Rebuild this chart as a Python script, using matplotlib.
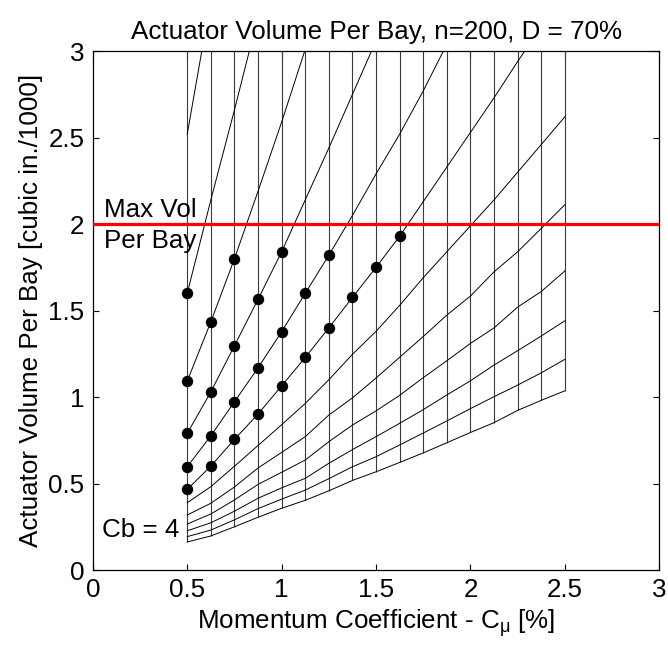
#!/usr/bin/env python3
"""
Carpet plot of actuator volume per bay vs momentum coefficient.

Each slanted line is one blowing coefficient (Cb = 4 at the bottom),
each vertical line one Cmu station. Dots mark the design points that
stay under the max volume per bay.
"""

import matplotlib
matplotlib.use('Agg')
import matplotlib.pyplot as plt
import numpy as np

nan = np.nan

# ---------------------------------------------------------------------------
# Data
# ---------------------------------------------------------------------------

cmu = [0.5, 0.625, 0.75, 0.875, 1.0, 1.125, 1.25, 1.375, 1.5,
       1.625, 1.75, 1.875, 2.0, 2.125, 2.25, 2.375, 2.5]

# volume per bay [cubic in./1000], one list per Cb line, lowest first
curve_01 = [0.162, 0.197, 0.250, 0.305, 0.357, 0.403, 0.458, 0.518, 0.568,
            0.622, 0.677, 0.736, 0.795, 0.852, 0.923, 0.981, 1.036]
curve_02 = [0.193, 0.231, 0.290, 0.355, 0.410, 0.462, 0.528, 0.597, 0.655,
            0.723, 0.792, 0.862, 0.933, 1.002, 1.069, 1.140, 1.218]
curve_03 = [0.227, 0.273, 0.340, 0.415, 0.475, 0.530, 0.617, 0.696, 0.771,
            0.848, 0.927, 1.012, 1.094, 1.185, 1.268, 1.353, 1.441]
curve_04 = [0.266, 0.324, 0.405, 0.495, 0.565, 0.636, 0.742, 0.838, 0.920,
            1.010, 1.112, 1.210, 1.310, 1.400, 1.520, 1.610, 1.729]
curve_05 = [0.318, 0.386, 0.480, 0.590, 0.680, 0.771, 0.896, 0.995, 1.110,
            1.230, 1.350, 1.474, 1.584, 1.724, 1.840, 1.975, 2.112]
curve_06 = [0.389, 0.482, 0.600, 0.720, 0.840, 0.963, 1.100, 1.247, 1.380,
            1.530, 1.690, 1.840, 1.990, 2.140, 2.300, 2.460, 2.620]
curve_07 = [0.466, 0.601, 0.755, 0.902, 1.065, 1.229, 1.400, 1.576, 1.750,
            1.930, 2.130, 2.330, 2.530, 2.730, 2.940, 3.140, nan]
curve_08 = [0.597, 0.776, 0.973, 1.169, 1.378, 1.600, 1.820, 2.050, 2.290,
            2.520, 2.770, 3.040, nan, nan, nan, nan, nan]
curve_09 = [0.790, 1.030, 1.297, 1.565, 1.840, 2.140, 2.440, 2.750, 3.060,
            nan, nan, nan, nan, nan, nan, nan, nan]
curve_10 = [1.092, 1.435, 1.800, 2.190, 2.590, 3.010, nan, nan, nan,
            nan, nan, nan, nan, nan, nan, nan, nan]
curve_11 = [1.600, 2.140, 2.660, 3.200, nan, nan, nan, nan, nan,
            nan, nan, nan, nan, nan, nan, nan, nan]
curve_12 = [2.520, 3.300, nan, nan, nan, nan, nan, nan, nan,
            nan, nan, nan, nan, nan, nan, nan, nan]

curves = [curve_01, curve_02, curve_03, curve_04, curve_05, curve_06,
          curve_07, curve_08, curve_09, curve_10, curve_11, curve_12]
dot_curves = [curve_07, curve_08, curve_09, curve_10, curve_11]

MAX_VOL = 2.0
ticks = [0, 0.5, 1, 1.5, 2, 2.5, 3]
tick_labels = ['0', '0.5', '1', '1.5', '2', '2.5', '3']

FS = 18.7

plt.rcParams['font.family'] = 'Liberation Sans'
plt.rcParams['mathtext.fontset'] = 'custom'
plt.rcParams['mathtext.rm'] = 'Liberation Sans'
plt.rcParams['mathtext.it'] = 'Liberation Sans'


def main():
    fig = plt.figure(figsize=(6.68, 6.51), dpi=100)
    ax = fig.add_axes([0.139, 0.1244, 0.848, 0.7972])
    ax.set_xlim(0, 3)
    ax.set_ylim(0, 3)

    # constant-Cmu lines run from the bottom Cb line up past the top
    ax.vlines(cmu, curve_01, ax.get_ylim()[1], color='#3a3a3a', lw=0.8)

    # constant-Cb lines
    for vol in curves:
        ax.plot(cmu, vol, color='k', lw=0.7)

    # design points under the volume limit
    x = np.array(cmu)
    for vol in dot_curves:
        v = np.array(vol)
        ok = v < MAX_VOL
        ax.plot(x[ok], v[ok], 'o', color='k', ms=7.2, zorder=3)

    ax.axhline(MAX_VOL, color='#ff0000', lw=2.3, zorder=4)

    ax.text(0.058, 2.04, 'Max Vol', fontsize=FS, va='baseline')
    ax.text(0.058, 1.86, 'Per Bay', fontsize=FS, va='baseline')
    ax.text(0.048, 0.19, 'Cb = 4', fontsize=FS, va='baseline')

    ax.set_xticks(ticks)
    ax.set_xticklabels(tick_labels)
    ax.set_yticks(ticks)
    ax.set_yticklabels(tick_labels)
    ax.tick_params(direction='in', top=True, right=True, length=4,
                   width=0.8, labelsize=FS, pad=6)
    for s in ax.spines.values():
        s.set_linewidth(0.9)

    ax.set_xlabel(r'Momentum Coefficient - C$_{\mathrm{\mu}}$ [%]',
                  fontsize=FS, labelpad=3.5)
    ax.set_ylabel('Actuator Volume Per Bay [cubic in./1000]', fontsize=FS)
    ax.set_title('Actuator Volume Per Bay, n=200, D = 70%', fontsize=FS, pad=9)

    fig.savefig('out.png', dpi=100)


if __name__ == '__main__':
    main()
